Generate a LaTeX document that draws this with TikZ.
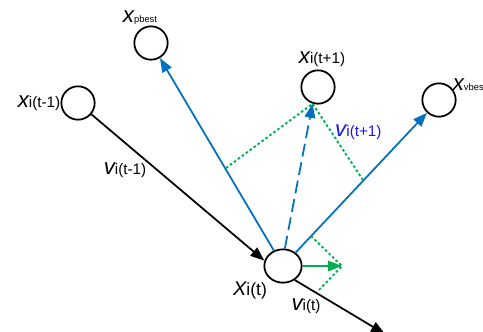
\documentclass[tikz,border=0pt]{standalone}
\usepackage{fontspec}
\setmainfont{Liberation Sans}
\usetikzlibrary{arrows.meta, positioning, shapes.geometric}
\definecolor{psoblue}{RGB}{0,112,192}
\definecolor{psogreen}{RGB}{0,176,80}
\definecolor{lblblue}{RGB}{25,25,230}
\newcommand{\bigx}{{\fontsize{19}{19}\selectfont\itshape x}}
\newcommand{\bigv}{{\fontsize{19}{19}\selectfont\itshape v}}
\newcommand{\rest}[1]{{\fontsize{13}{13}\selectfont #1}}
\newcommand{\subs}[1]{{\fontsize{8}{8}\selectfont #1}}

\begin{document}
\begin{tikzpicture}[x=0.03cm, y=-0.03cm,
        pnt/.style={circle, draw, line width=1.5pt, minimum size=1cm, inner sep=0pt},
        cur/.style={ellipse, draw, line width=1.5pt, minimum width=1.12cm, minimum height=1cm, inner sep=0pt},
        arr/.style={-{Triangle[length=12pt,width=9pt]}, line width=1.5pt},
        guide/.style={psogreen, line width=1.6pt, dash pattern=on 2.2pt off 2pt},
        lbl/.style={inner sep=0pt}
    ]
        \useasboundingbox (0,0) rectangle (483,331);

        % particles
        \node[pnt] (pb) at (151,43) {};
        \node[pnt] (xp) at (78,103) {};
        \node[pnt] (xn) at (318,87) {};
        \node[pnt] (vb) at (439,100) {};
        \node[cur] (xc) at (283,266) {};

        % helper points
        \coordinate (g1) at (226,168);
        \coordinate (g2) at (363,180);
        \coordinate (g3) at (311,236);
        \coordinate (g4) at (342,266);
        \coordinate (g5) at (317,292);
        \coordinate (out) at (385,334);

        % velocities
        \draw[arr] (xp) -- (xc.164);
        \draw[arr] (xc.-50) -- (out);
        \draw[arr, psoblue] (xc) -- (pb);
        \draw[arr, psoblue] (xc) -- (vb);
        \draw[arr, psoblue, dash pattern=on 11pt off 5pt] (xc.84) -- (xn.252);
        \draw[guide] (g1) -- (xn.252) -- (g2);
        \draw[guide] (g3) -- (g4) -- (g5);
        \draw[arr, psogreen] (xc.east) -- (g4);

        % labels
        \node[lbl, above=1pt of pb, xshift=-0.33cm] {\bigx\subs{pbest}};
        \node[lbl, left=0pt of xp] {\bigx\rest{i(t-1)}};
        \node[lbl, above=2pt of xn, xshift=0.12cm] {\bigx\rest{i(t+1)}};
        \node[lbl, anchor=south west] at ([xshift=1pt, yshift=-3pt]vb.north east) {\bigx\subs{vbest}};
        \node[lbl] at (125,170) {\bigv\rest{i(t-1)}};
        \node[lbl, anchor=west, text=lblblue] at (335,132) {\bigv\rest{i(t+1)}};
        \node[lbl] at (250,290) {{\fontsize{17}{17}\selectfont\itshape X}{\fontsize{15}{15}\selectfont i(t)}};
        \node[lbl] at (306,306) {\bigv\rest{i(t)}};
    \end{tikzpicture}
\end{document}
